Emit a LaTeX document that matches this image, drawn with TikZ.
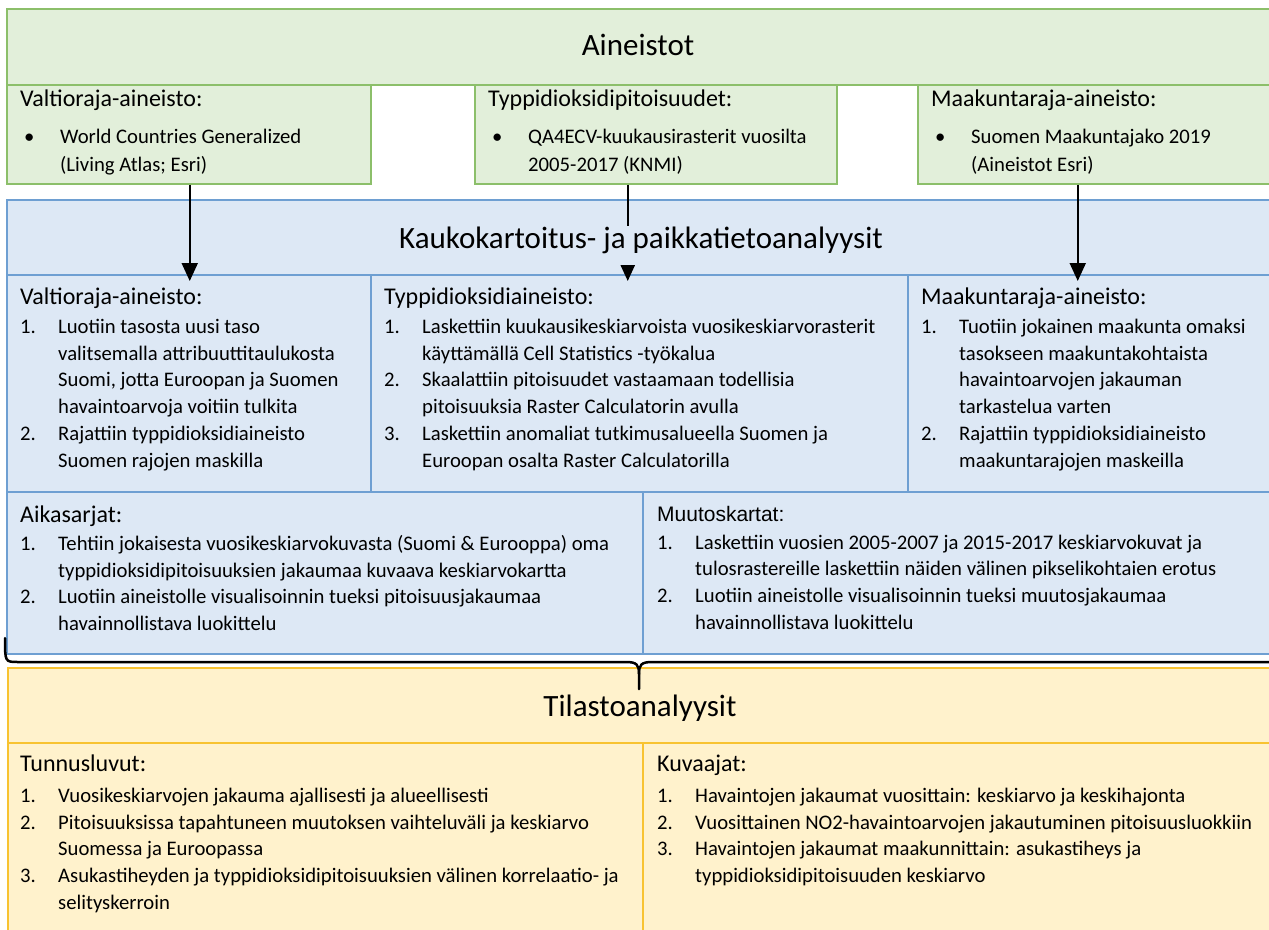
\documentclass[tikz,border=0pt]{standalone}
\usepackage{fontspec}
\setmainfont{Carlito}
\newfontfamily\arialfont{Liberation Sans}
\usetikzlibrary{arrows.meta}

\definecolor{vihrea}{HTML}{E2EFDA}
\definecolor{vihreaR}{HTML}{8CBF6A}
\definecolor{sininen}{HTML}{DDE8F5}
\definecolor{sininenR}{HTML}{6E9FD2}
\definecolor{keltainen}{HTML}{FFF2CC}
\definecolor{keltainenR}{HTML}{F8C331}

\tikzset{
  laatikko/.style={draw, line width=1.5pt, anchor=north west, inner sep=0pt},
  vbox/.style={laatikko, fill=vihrea, draw=vihreaR},
  sbox/.style={laatikko, fill=sininen, draw=sininenR},
  kbox/.style={laatikko, fill=keltainen, draw=keltainenR},
  otsikko/.style={font=\fontsize{31}{36}\selectfont, anchor=base, inner sep=0pt},
  teksti/.style={font=\fontsize{20.7}{26.7}\selectfont, align=left, anchor=north west, inner sep=0pt},
  nuoli/.style={-{Triangle[width=16pt,length=18pt]}, line width=2pt, shorten >=-7pt},
  aalto/.style={line width=2.5pt, line cap=round},
}
\newcommand{\hd}[1]{{\fontsize{24}{29}\selectfont #1}}
\newcommand{\nro}[1]{\makebox[38pt][l]{#1}}
\newcommand{\jatko}{\hspace*{38pt}}
\newcommand{\pallo}{\makebox[40pt][l]{\hspace{4pt}•}}
\newcommand{\pjatko}{\hspace*{40pt}}

\begin{document}
\begin{tikzpicture}[x=1pt,y=-1pt]
\useasboundingbox (0,0) rectangle (1269,929);

% aineistot
\node[vbox, minimum width=1269pt, minimum height=76pt] (aine) at (6,8) {};
\node[vbox, minimum width=364pt, minimum height=99pt] (g1) at (6,84) {};
\node[vbox, minimum width=362pt, minimum height=99pt] (g2) at (474,84) {};
\node[vbox, minimum width=358pt, minimum height=99pt] (g3) at (917,84) {};

% kaukokartoitus
\node[sbox, minimum width=1269pt, minimum height=75pt] (kp) at (6,199) {};
\node[sbox, minimum width=364pt, minimum height=217pt] (b1) at (6,274) {};
\node[sbox, minimum width=537pt, minimum height=217pt] (b2) at (370,274) {};
\node[sbox, minimum width=368pt, minimum height=217pt] (b3) at (907,274) {};
\node[sbox, minimum width=636pt, minimum height=162pt] (a1) at (6,491) {};
\node[sbox, minimum width=633pt, minimum height=162pt] (a2) at (642,491) {};

% tilastot
\node[kbox, minimum width=1268pt, minimum height=75pt] (tila) at (7,667) {};
\node[kbox, minimum width=635pt, minimum height=200pt] (y1) at (7,742) {};
\node[kbox, minimum width=633pt, minimum height=200pt] (y2) at (642,742) {};

% nuolet
\draw[nuoli] ([xshift=1pt]g1.south) -- ([xshift=1pt]g1.south |- b1.north);
\draw[nuoli] ([xshift=-28pt]g2.south) -- ([xshift=-28pt]g2.south |- b2.north);
\draw[nuoli] ([xshift=-19pt]g3.south) -- ([xshift=-19pt]g3.south |- b3.north);

% otsikot
\node[otsikko] (aineistot) at (638,55) {Aineistot};
\node[otsikko, fill=sininen, text height=22pt, text depth=17pt] (kauko) at (641,248)
  {Kaukokartoitus- ja paikkatietoanalyysit};
\node[otsikko] (tilasto) at (640,716) {Tilastoanalyysit};

% tekstit
\node[teksti] (t-g1) at (20,90) {\hd{Valtioraja-aineisto:}\\[10pt]
  \pallo World Countries Generalized\\[1pt]
  \pjatko (Living Atlas; Esri)};
\node[teksti] (t-g2) at (488,90) {\hd{Typpidioksidipitoisuudet:}\\[10pt]
  \pallo QA4ECV-kuukausirasterit vuosilta\\[1pt]
  \pjatko 2005-2017 (KNMI)};
\node[teksti] (t-g3) at (931,90) {\hd{Maakuntaraja-aineisto:}\\[10pt]
  \pallo Suomen Maakuntajako 2019\\[1pt]
  \pjatko (Aineistot Esri)};

\node[teksti] (t-b1) at (20,288) {\hd{Valtioraja-aineisto:}\\[2pt]
  \nro{1.}Luotiin tasosta uusi taso\\
  \jatko valitsemalla attribuuttitaulukosta\\
  \jatko Suomi, jotta Euroopan ja Suomen\\
  \jatko havaintoarvoja voitiin tulkita\\
  \nro{2.}Rajattiin typpidioksidiaineisto\\
  \jatko Suomen rajojen maskilla};
\node[teksti] (t-b2) at (384,288) {\hd{Typpidioksidiaineisto:}\\[2pt]
  \nro{1.}Laskettiin kuukausikeskiarvoista vuosikeskiarvorasterit\\
  \jatko käyttämällä Cell Statistics -työkalua\\
  \nro{2.}Skaalattiin pitoisuudet vastaamaan todellisia\\
  \jatko pitoisuuksia Raster Calculatorin avulla\\
  \nro{3.}Laskettiin anomaliat tutkimusalueella Suomen ja\\
  \jatko Euroopan osalta Raster Calculatorilla};
\node[teksti] (t-b3) at (921,288) {\hd{Maakuntaraja-aineisto:}\\[2pt]
  \nro{1.}Tuotiin jokainen maakunta omaksi\\
  \jatko tasokseen maakuntakohtaista\\
  \jatko havaintoarvojen jakauman\\
  \jatko tarkastelua varten\\
  \nro{2.}Rajattiin typpidioksidiaineisto\\
  \jatko maakuntarajojen maskeilla};

\node[teksti] (t-a1) at (20,506) {\hd{Aikasarjat:}\\[1pt]
  \nro{1.}Tehtiin jokaisesta vuosikeskiarvokuvasta (Suomi \& Eurooppa) oma\\
  \jatko typpidioksidipitoisuuksien jakaumaa kuvaava keskiarvokartta\\
  \nro{2.}Luotiin aineistolle visualisoinnin tueksi pitoisuusjakaumaa\\
  \jatko havainnollistava luokittelu};
\node[teksti] (t-a2) at (657,506) {{\arialfont\fontsize{21}{29}\selectfont Muutoskartat:}\\[1pt]
  \nro{1.}Laskettiin vuosien 2005-2007 ja 2015-2017 keskiarvokuvat ja\\
  \jatko tulosrastereille laskettiin näiden välinen pikselikohtaien erotus\\
  \nro{2.}Luotiin aineistolle visualisoinnin tueksi muutosjakaumaa\\
  \jatko havainnollistava luokittelu};

\node[teksti] (t-y1) at (20,755) {\hd{Tunnusluvut:}\\[4pt]
  \nro{1.}Vuosikeskiarvojen jakauma ajallisesti ja alueellisesti\\
  \nro{2.}Pitoisuuksissa tapahtuneen muutoksen vaihteluväli ja keskiarvo\\
  \jatko Suomessa ja Euroopassa\\
  \nro{3.}Asukastiheyden ja typpidioksidipitoisuuksien välinen korrelaatio- ja\\
  \jatko selityskerroin};
\node[teksti] (t-y2) at (657,755) {\hd{Kuvaajat:}\\[4pt]
  \nro{1.}Havaintojen jakaumat vuosittain: keskiarvo ja keskihajonta\\
  \nro{2.}Vuosittainen NO2-havaintoarvojen jakautuminen pitoisuusluokkiin\\
  \nro{3.}Havaintojen jakaumat maakunnittain: asukastiheys ja\\
  \jatko typpidioksidipitoisuuden keskiarvo};

% aaltosulje
\draw[aalto] (5,638) .. controls (5,662) and (5,662) .. (18,662) -- (626,662)
  .. controls (637,662) and (639,665) .. (639,674) -- (639,689);
\draw[aalto] (639,674) .. controls (639,665) and (641,662) .. (652,662) -- (1290,662);
\end{tikzpicture}
\end{document}
